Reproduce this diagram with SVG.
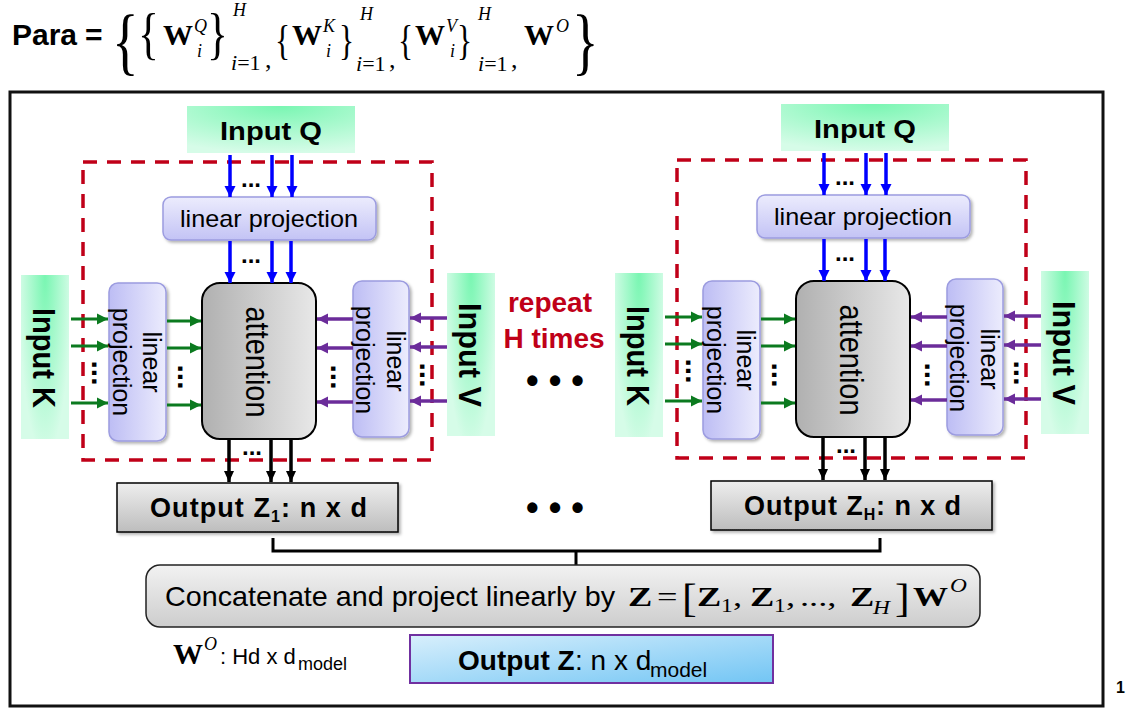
<svg xmlns="http://www.w3.org/2000/svg" width="1126" height="722" viewBox="0 0 1126 722">
<defs>
<style>
.sans{font-family:"Liberation Sans",Arial,sans-serif}
.serif{font-family:"Liberation Serif","Times New Roman",serif}
.b{font-weight:bold}
.it{font-style:italic}
.inp{fill:url(#gIn)}
.inpq{fill:url(#gInQ)}
.lph{fill:url(#gLpH);stroke:#9c9ce0;stroke-width:1.5}
.lpv{fill:url(#gLpV);stroke:#9c9ce0;stroke-width:1.5}
.att{fill:url(#gAtt);stroke:#000;stroke-width:2}
.out{fill:url(#gOut);stroke:#000;stroke-width:1.5}
.dash{fill:none;stroke:#c00018;stroke-width:3.5;stroke-dasharray:14 10}
.ab{stroke:#0000ff;stroke-width:3.5;fill:none;marker-end:url(#mB)}
.ag{stroke:#0b7a1f;stroke-width:3;fill:none;marker-end:url(#mG)}
.ap{stroke:#6b2c9a;stroke-width:3.5;fill:none;marker-end:url(#mP)}
.ak{stroke:#000;stroke-width:3.5;fill:none;marker-end:url(#mK)}
.dots{font-family:"Liberation Sans",Arial,sans-serif;font-weight:bold;fill:#000}
</style>
<radialGradient id="gInQ" cx="0.55" cy="0" r="1">
<stop offset="0" stop-color="#79f6b2"/><stop offset="1" stop-color="#d6fce8"/>
</radialGradient>
<radialGradient id="gIn" cx="1" cy="0" r="1.1" gradientTransform="translate(0.5,0) scale(0.5,1) translate(-1,0)">
<stop offset="0" stop-color="#79f6b2"/><stop offset="1" stop-color="#d6fce8"/>
</radialGradient>
<linearGradient id="gLpH" x1="0" y1="0" x2="0" y2="1">
<stop offset="0" stop-color="#ececfd"/><stop offset="1" stop-color="#c3c3f5"/>
</linearGradient>
<linearGradient id="gLpV" x1="0" y1="0" x2="1" y2="0">
<stop offset="0" stop-color="#bdbdf4"/><stop offset="1" stop-color="#ececfd"/>
</linearGradient>
<linearGradient id="gAtt" x1="0" y1="0" x2="1" y2="0">
<stop offset="0" stop-color="#b0b0b0"/><stop offset="1" stop-color="#e8e8e8"/>
</linearGradient>
<linearGradient id="gOut" x1="0" y1="0" x2="0" y2="1">
<stop offset="0" stop-color="#eeeeee"/><stop offset="1" stop-color="#bdbdbd"/>
</linearGradient>
<linearGradient id="gCat" x1="0" y1="0" x2="0" y2="1">
<stop offset="0" stop-color="#f2f2f2"/><stop offset="1" stop-color="#cdcdcd"/>
</linearGradient>
<linearGradient id="gOZ" x1="0" y1="0" x2="1" y2="1">
<stop offset="0" stop-color="#d8effc"/><stop offset="1" stop-color="#72c5f4"/>
</linearGradient>
<filter id="sh" x="-10%" y="-10%" width="130%" height="140%">
<feDropShadow dx="2" dy="2" stdDeviation="1.5" flood-color="#000" flood-opacity="0.3"/>
</filter>
<marker id="mB" markerUnits="userSpaceOnUse" markerWidth="12" markerHeight="12" refX="11" refY="6" orient="auto"><path d="M0,0.5 L11,6 L0,11.5 z" fill="#0000ff"/></marker>
<marker id="mG" markerUnits="userSpaceOnUse" markerWidth="12" markerHeight="12" refX="11" refY="6" orient="auto"><path d="M0,0.5 L11,6 L0,11.5 z" fill="#0b7a1f"/></marker>
<marker id="mP" markerUnits="userSpaceOnUse" markerWidth="12" markerHeight="12" refX="11" refY="6" orient="auto"><path d="M0,0.5 L11,6 L0,11.5 z" fill="#6b2c9a"/></marker>
<marker id="mK" markerUnits="userSpaceOnUse" markerWidth="12" markerHeight="12" refX="11" refY="6" orient="auto"><path d="M0,1 L11,6 L0,11 z" fill="#000"/></marker>
</defs>
<rect width="1126" height="722" fill="#fff"/>

<g id="title">
<text class="sans b" x="12" y="45" font-size="30">Para</text>
<text class="sans b" x="85" y="45" font-size="30">=</text>
<text class="serif" transform="translate(112,66) scale(0.75,1)" font-size="74">{</text>
<text class="serif" transform="translate(138,53) scale(0.75,1)" font-size="58">{</text>
<text class="serif b" x="163" y="45" font-size="30">W</text>
<text class="serif it" x="194" y="32" font-size="18">Q</text>
<text class="serif it" x="197" y="57" font-size="18">i</text>
<text class="serif" transform="translate(207,53) scale(0.75,1)" font-size="58">}</text>
<text class="serif it" x="233" y="16" font-size="18">H</text>
<text class="serif" x="231" y="70" font-size="22"><tspan class="it">i</tspan>=1</text>
<text class="serif" x="265" y="68" font-size="26">,</text>
<text class="serif" transform="translate(275,54) scale(0.75,1)" font-size="42">{</text>
<text class="serif b" x="292" y="45" font-size="30">W</text>
<text class="serif it" x="323" y="32" font-size="18">K</text>
<text class="serif it" x="326" y="57" font-size="18">i</text>
<text class="serif" transform="translate(339,54) scale(0.75,1)" font-size="42">}</text>
<text class="serif it" x="360" y="20" font-size="18">H</text>
<text class="serif" x="356" y="71" font-size="22"><tspan class="it">i</tspan>=1</text>
<text class="serif" x="389" y="68" font-size="26">,</text>
<text class="serif" transform="translate(398,54) scale(0.75,1)" font-size="42">{</text>
<text class="serif b" x="415" y="45" font-size="30">W</text>
<text class="serif it" x="446" y="32" font-size="18">V</text>
<text class="serif it" x="450" y="57" font-size="18">i</text>
<text class="serif" transform="translate(457,54) scale(0.75,1)" font-size="42">}</text>
<text class="serif it" x="478" y="20" font-size="18">H</text>
<text class="serif" x="478" y="71" font-size="22"><tspan class="it">i</tspan>=1</text>
<text class="serif" x="511" y="68" font-size="26">,</text>
<text class="serif b" x="524" y="45" font-size="30">W</text>
<text class="serif it" x="556" y="32" font-size="18">O</text>
<text class="serif" transform="translate(572,66) scale(0.75,1)" font-size="74">}</text>
</g>

<rect id="frame" x="10" y="92" width="1093" height="614" fill="none" stroke="#111" stroke-width="3"/>

<!-- Head 1 -->
<g id="head1-group">
<rect id="head1-box" class="dash" x="83" y="162" width="349" height="298"/>
<g id="h1-inputQ"><rect class="inpq" x="187" y="106" width="168" height="47"/><text class="sans b" x="271" y="140" font-size="26" text-anchor="middle" textLength="102" lengthAdjust="spacingAndGlyphs">Input Q</text></g>
<g id="h1-lpQ"><rect class="lph" x="163" y="197" width="213" height="43" rx="8" filter="url(#sh)"/><text class="sans" x="269" y="227" font-size="24" text-anchor="middle" textLength="178" lengthAdjust="spacingAndGlyphs">linear projection</text></g>
<g id="h1-attention"><rect class="att" x="202" y="283" width="114" height="156" rx="18"/><text class="sans" transform="translate(246,362) rotate(90)" font-size="34" text-anchor="middle" textLength="111" lengthAdjust="spacingAndGlyphs">attention</text></g>
<g id="h1-lpK"><rect class="lpv" x="109" y="283" width="57" height="158" rx="9" filter="url(#sh)"/><text class="sans" transform="translate(143,362) rotate(90)" font-size="25" text-anchor="middle">linear</text><text class="sans" transform="translate(113,362) rotate(90)" font-size="25" text-anchor="middle">projection</text></g>
<g id="h1-inputK"><rect class="inp" x="21" y="275" width="48" height="164"/><text class="sans b" transform="translate(33,358) rotate(90)" font-size="32" text-anchor="middle" textLength="100" lengthAdjust="spacingAndGlyphs">Input K</text></g>
<g id="h1-lpV"><rect class="lpv" x="353" y="281" width="56" height="156" rx="9" filter="url(#sh)"/><text class="sans" transform="translate(387,361) rotate(90)" font-size="25" text-anchor="middle">linear</text><text class="sans" transform="translate(356,360) rotate(90)" font-size="25" text-anchor="middle">projection</text></g>
<g id="h1-inputV"><rect class="inp" x="447" y="273" width="48" height="163"/><text class="sans b" transform="translate(459,355) rotate(90)" font-size="32" text-anchor="middle" textLength="104" lengthAdjust="spacingAndGlyphs">Input V</text></g>
<g id="h1-output"><rect class="out" x="117" y="483" width="281" height="49" filter="url(#sh)"/><text class="sans b" x="150" y="517" font-size="27" textLength="217" lengthAdjust="spacing">Output Z<tspan font-size="16" dy="5">1</tspan><tspan dy="-5">: n x d</tspan></text></g>
</g>

<!-- Head H -->
<g id="headH-group" transform="translate(594,-2)">
<rect id="headH-box" class="dash" x="83" y="162" width="349" height="298"/>
<g id="hH-inputQ"><rect class="inpq" x="187" y="106" width="168" height="47"/><text class="sans b" x="271" y="140" font-size="26" text-anchor="middle" textLength="102" lengthAdjust="spacingAndGlyphs">Input Q</text></g>
<g id="hH-lpQ"><rect class="lph" x="163" y="197" width="213" height="43" rx="8" filter="url(#sh)"/><text class="sans" x="269" y="227" font-size="24" text-anchor="middle" textLength="178" lengthAdjust="spacingAndGlyphs">linear projection</text></g>
<g id="hH-attention"><rect class="att" x="202" y="283" width="114" height="156" rx="18"/><text class="sans" transform="translate(246,362) rotate(90)" font-size="34" text-anchor="middle" textLength="111" lengthAdjust="spacingAndGlyphs">attention</text></g>
<g id="hH-lpK"><rect class="lpv" x="109" y="283" width="57" height="158" rx="9" filter="url(#sh)"/><text class="sans" transform="translate(143,362) rotate(90)" font-size="25" text-anchor="middle">linear</text><text class="sans" transform="translate(113,362) rotate(90)" font-size="25" text-anchor="middle">projection</text></g>
<g id="hH-inputK"><rect class="inp" x="21" y="275" width="48" height="164"/><text class="sans b" transform="translate(33,358) rotate(90)" font-size="32" text-anchor="middle" textLength="100" lengthAdjust="spacingAndGlyphs">Input K</text></g>
<g id="hH-lpV"><rect class="lpv" x="353" y="281" width="56" height="156" rx="9" filter="url(#sh)"/><text class="sans" transform="translate(387,361) rotate(90)" font-size="25" text-anchor="middle">linear</text><text class="sans" transform="translate(356,360) rotate(90)" font-size="25" text-anchor="middle">projection</text></g>
<g id="hH-inputV"><rect class="inp" x="447" y="273" width="48" height="163"/><text class="sans b" transform="translate(459,355) rotate(90)" font-size="32" text-anchor="middle" textLength="104" lengthAdjust="spacingAndGlyphs">Input V</text></g>
<g id="hH-output"><rect class="out" x="117" y="483" width="281" height="49" filter="url(#sh)"/><text class="sans b" x="150" y="517" font-size="27" textLength="217" lengthAdjust="spacing">Output Z<tspan font-size="16" dy="5">H</tspan><tspan dy="-5">: n x d</tspan></text></g>
</g>

<g id="connectors">
<g id="conn-head1">
<line class="ab" x1="230" y1="155" x2="230" y2="197"/><line class="ab" x1="272" y1="155" x2="272" y2="197"/><line class="ab" x1="292" y1="155" x2="292" y2="197"/>
<line class="ab" x1="230" y1="241" x2="230" y2="283"/><line class="ab" x1="272" y1="241" x2="272" y2="283"/><line class="ab" x1="291" y1="241" x2="291" y2="283"/>
<line class="ag" x1="71" y1="319" x2="108" y2="319"/><line class="ag" x1="71" y1="346" x2="108" y2="346"/><line class="ag" x1="71" y1="403" x2="108" y2="403"/>
<line class="ag" x1="167" y1="321" x2="201" y2="321"/><line class="ag" x1="167" y1="348" x2="201" y2="348"/><line class="ag" x1="167" y1="405" x2="201" y2="405"/>
<line class="ap" x1="447" y1="318" x2="410" y2="318"/><line class="ap" x1="447" y1="347" x2="410" y2="347"/><line class="ap" x1="447" y1="401" x2="410" y2="401"/>
<line class="ap" x1="353" y1="319" x2="317" y2="319"/><line class="ap" x1="353" y1="348" x2="317" y2="348"/><line class="ap" x1="353" y1="402" x2="317" y2="402"/>
<line class="ak" x1="229" y1="440" x2="229" y2="482"/><line class="ak" x1="271" y1="440" x2="271" y2="482"/><line class="ak" x1="291" y1="440" x2="291" y2="482"/>
<text class="dots" x="251" y="187" font-size="24" text-anchor="middle">...</text>
<text class="dots" x="251" y="263" font-size="24" text-anchor="middle">...</text>
<text class="dots" x="252" y="455" font-size="24" text-anchor="middle">...</text>
<text class="dots" transform="translate(91.5,373) rotate(90)" font-size="30" text-anchor="middle">...</text>
<text class="dots" transform="translate(177.5,377) rotate(90)" font-size="30" text-anchor="middle">...</text>
<text class="dots" transform="translate(330.5,377) rotate(90)" font-size="30" text-anchor="middle">...</text>
<text class="dots" transform="translate(419.5,375) rotate(90)" font-size="30" text-anchor="middle">...</text>
</g>
<g id="conn-headH" transform="translate(594,-2)">
<line class="ab" x1="230" y1="155" x2="230" y2="197"/><line class="ab" x1="272" y1="155" x2="272" y2="197"/><line class="ab" x1="292" y1="155" x2="292" y2="197"/>
<line class="ab" x1="230" y1="241" x2="230" y2="283"/><line class="ab" x1="272" y1="241" x2="272" y2="283"/><line class="ab" x1="291" y1="241" x2="291" y2="283"/>
<line class="ag" x1="71" y1="319" x2="108" y2="319"/><line class="ag" x1="71" y1="346" x2="108" y2="346"/><line class="ag" x1="71" y1="403" x2="108" y2="403"/>
<line class="ag" x1="167" y1="321" x2="201" y2="321"/><line class="ag" x1="167" y1="348" x2="201" y2="348"/><line class="ag" x1="167" y1="405" x2="201" y2="405"/>
<line class="ap" x1="447" y1="318" x2="410" y2="318"/><line class="ap" x1="447" y1="347" x2="410" y2="347"/><line class="ap" x1="447" y1="401" x2="410" y2="401"/>
<line class="ap" x1="353" y1="319" x2="317" y2="319"/><line class="ap" x1="353" y1="348" x2="317" y2="348"/><line class="ap" x1="353" y1="402" x2="317" y2="402"/>
<line class="ak" x1="229" y1="440" x2="229" y2="482"/><line class="ak" x1="271" y1="440" x2="271" y2="482"/><line class="ak" x1="291" y1="440" x2="291" y2="482"/>
<text class="dots" x="251" y="187" font-size="24" text-anchor="middle">...</text>
<text class="dots" x="251" y="263" font-size="24" text-anchor="middle">...</text>
<text class="dots" x="252" y="455" font-size="24" text-anchor="middle">...</text>
<text class="dots" transform="translate(91.5,373) rotate(90)" font-size="30" text-anchor="middle">...</text>
<text class="dots" transform="translate(177.5,377) rotate(90)" font-size="30" text-anchor="middle">...</text>
<text class="dots" transform="translate(330.5,377) rotate(90)" font-size="30" text-anchor="middle">...</text>
<text class="dots" transform="translate(419.5,375) rotate(90)" font-size="30" text-anchor="middle">...</text>
</g>
<path id="bracket" d="M273,538 V551 H880 V538 M576,551 V565" fill="none" stroke="#000" stroke-width="3"/>
</g>

<g id="repeat-label">
<text class="sans b" x="550" y="312" font-size="28" fill="#c00018" text-anchor="middle">repeat</text>
<text class="sans b" x="554" y="348" font-size="28" fill="#c00018" text-anchor="middle">H times</text>
</g>
<text class="dots" x="555" y="393" font-size="36" text-anchor="middle">• • •</text>
<text class="dots" x="555" y="520" font-size="36" text-anchor="middle">• • •</text>

<g id="concat">
<rect x="146" y="565" width="834" height="62" rx="14" fill="url(#gCat)" stroke="#222" stroke-width="1.5"/>
<text class="sans" x="165" y="606" font-size="28" textLength="450" lengthAdjust="spacingAndGlyphs">Concatenate and project linearly by</text>
<text class="serif b" transform="translate(628,606) scale(1.3,1)" font-size="28">Z</text>
<text class="serif" transform="translate(657,606) scale(1.3,1)" font-size="28">=</text>
<text class="serif" transform="translate(682,612) scale(1.1,1)" font-size="40">[</text>
<text class="serif b" transform="translate(697,606) scale(1.3,1)" font-size="28">Z</text><text class="serif" transform="translate(721,612) scale(1.3,1)" font-size="18">1</text><text class="serif" transform="translate(733,606) scale(1.3,1)" font-size="28">,</text>
<text class="serif b" transform="translate(750,606) scale(1.3,1)" font-size="28">Z</text><text class="serif" transform="translate(774,612) scale(1.3,1)" font-size="18">1</text><text class="serif" transform="translate(786,606) scale(1.3,1)" font-size="28">,</text>
<text class="serif" transform="translate(800,606) scale(1.3,1)" font-size="28">...,</text>
<text class="serif b" transform="translate(850,606) scale(1.3,1)" font-size="28">Z</text><text class="serif it" transform="translate(873,614) scale(1.3,1)" font-size="18">H</text>
<text class="serif" transform="translate(895,612) scale(1.1,1)" font-size="40">]</text>
<text class="serif b" transform="translate(913,606) scale(1.25,1)" font-size="28">W</text><text class="serif it" transform="translate(950,592) scale(1.3,1)" font-size="18">O</text>
</g>

<g id="wo-label">
<text class="serif b" x="173" y="664" font-size="30">W</text>
<text class="serif it" x="204" y="650" font-size="18">O</text>
<text class="sans" x="220" y="664" font-size="22">: Hd x d</text>
<text class="sans" x="298" y="670" font-size="18">model</text>
</g>

<g id="outputZ">
<rect x="410" y="635" width="363" height="48" fill="url(#gOZ)" stroke="#7030a0" stroke-width="2"/>
<text class="sans b" x="458" y="670" font-size="28">Output Z</text>
<text class="sans" x="575" y="670" font-size="28">: n x d</text>
<text class="sans" x="650" y="677" font-size="21">model</text>
</g>

<text class="sans b" x="1116" y="693" font-size="16">1</text>
</svg>
